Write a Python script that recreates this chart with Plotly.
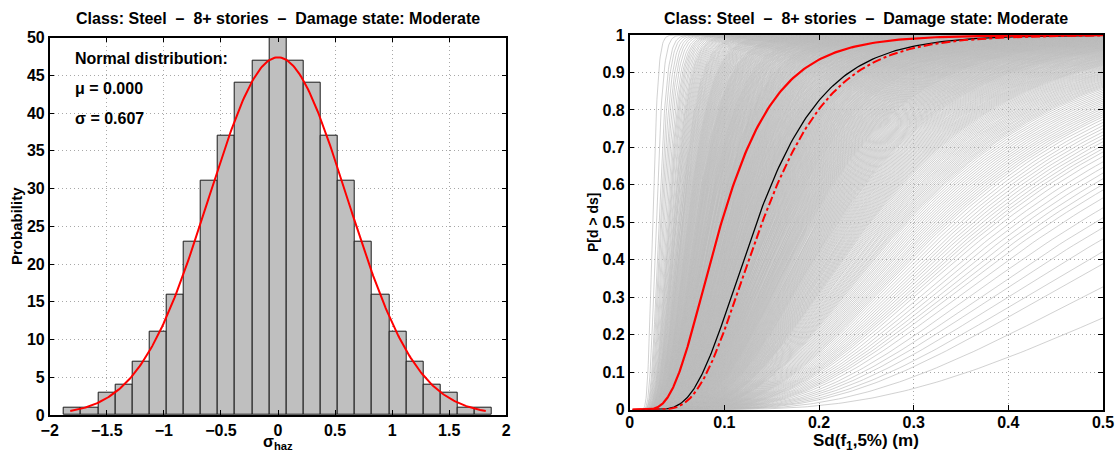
import math
import numpy as np
import plotly.graph_objects as go

# ---------------- data ----------------
# Left: histogram of sigma_haz (bin centres, counts)
bin_centers = [-1.8, -1.65, -1.5, -1.35, -1.2, -1.05, -0.9, -0.75, -0.6, -0.45, -0.3, -0.15,
               0.0, 0.15, 0.3, 0.45, 0.6, 0.75, 0.9, 1.05, 1.2, 1.35, 1.5, 1.65, 1.8]
bin_counts = [1, 1, 3, 4, 7, 11, 16, 23, 31, 37, 44, 47,
              50, 47, 44, 37, 31, 23, 16, 11, 7, 4, 3, 1, 1]
bin_width = 0.15
fit_mu = 0.000
fit_sigma = 0.607
fit_peak = 47.4          # peak height of fitted curve (counts)
fit_range = [-1.82, 1.82]

# Right: fragility curves (lognormal: median Sd [m], beta)
black_median, black_beta = 0.134, 0.428
red_median, red_beta = 0.097, 0.48
reddash_median, reddash_beta = 0.140, 0.42
# gray ensemble: medians = black_median*exp(k*eps), beta varies with eps
gray_eps_scale = 0.95
beta_anchor_eps = [-1.72, 0.0, 1.66]
beta_anchor_val = [0.18, 0.43, 0.57]

title_text = "Class: Steel\u00a0\u00a0–\u00a0\u00a08+ stories\u00a0\u00a0–\u00a0\u00a0Damage state: Moderate"

# ---------------- helpers ----------------
erf = np.vectorize(math.erf)


def norm_cdf(z):
    return 0.5 * (1.0 + erf(z / math.sqrt(2.0)))


def lognorm_cdf(x, m, b):
    return norm_cdf(np.log(x / m) / b)


FONT = "Liberation Sans, Arial, Helvetica, sans-serif"
fig = go.Figure()

# ---------------- left panel ----------------
fig.add_trace(go.Bar(
    x=bin_centers, y=bin_counts, width=bin_width,
    marker=dict(color="#bfbfbf", line=dict(color="#1a1a1a", width=1)),
    xaxis="x", yaxis="y", showlegend=False, hoverinfo="skip"))

xf = np.linspace(fit_range[0], fit_range[1], 300)
yf = fit_peak * np.exp(-0.5 * ((xf - fit_mu) / fit_sigma) ** 2)
fig.add_trace(go.Scatter(x=xf, y=yf, mode="lines", line=dict(color="#ff0000", width=2),
                         xaxis="x", yaxis="y", showlegend=False, hoverinfo="skip"))

# ---------------- right panel ----------------
xs = np.geomspace(0.003, 0.5, 320)
gx, gy = [], []
for c, n in zip(bin_centers, bin_counts):
    for j in range(n):
        eps = (c + ((j + 0.5) / n - 0.5) * bin_width) * gray_eps_scale
        m = black_median * math.exp(eps)
        b = float(np.interp(eps, beta_anchor_eps, beta_anchor_val))
        yv = lognorm_cdf(xs, m, b)
        keep = (yv > 1e-5)
        gx.extend(xs[keep].tolist()); gx.append(None)
        gy.extend(yv[keep].tolist()); gy.append(None)
fig.add_trace(go.Scatter(x=gx, y=gy, mode="lines", line=dict(color="#bdbdbd", width=0.7),
                         xaxis="x2", yaxis="y2", showlegend=False, hoverinfo="skip"))

xc = np.geomspace(0.003, 0.5, 400)
fig.add_trace(go.Scatter(x=xc, y=lognorm_cdf(xc, black_median, black_beta), mode="lines",
                         line=dict(color="black", width=1.3),
                         xaxis="x2", yaxis="y2", showlegend=False, hoverinfo="skip"))
fig.add_trace(go.Scatter(x=xc, y=lognorm_cdf(xc, reddash_median, reddash_beta), mode="lines",
                         line=dict(color="#ff0000", width=2, dash="dashdot"),
                         xaxis="x2", yaxis="y2", showlegend=False, hoverinfo="skip"))
fig.add_trace(go.Scatter(x=xc, y=lognorm_cdf(xc, red_median, red_beta), mode="lines",
                         line=dict(color="#ff0000", width=2.2),
                         xaxis="x2", yaxis="y2", showlegend=False, hoverinfo="skip"))

# ---------------- axes ----------------
W, H = 1116, 453
tickfont = dict(family=FONT, size=16, color="black", weight="bold")
common = dict(showline=True, linecolor="black", linewidth=1.5, mirror="ticks",
              ticks="inside", ticklen=5, tickcolor="black", tickwidth=1,
              showgrid=True, gridcolor="#a8a8a8", griddash="1px,3px", gridwidth=1,
              zeroline=False, tickfont=tickfont, automargin=False)

fig.update_layout(
    width=W, height=H, margin=dict(l=0, r=0, t=0, b=0),
    plot_bgcolor="white", paper_bgcolor="white", bargap=0,
    xaxis=dict(domain=[49.7 / W, 506.3 / W], range=[-2, 2], tickvals=[-2, -1.5, -1, -0.5, 0, 0.5, 1, 1.5, 2],
               ticktext=["\u22122", "\u22121.5", "\u22121", "\u22120.5", "0", "0.5", "1", "1.5", "2"],
               anchor="y", **common),
    yaxis=dict(domain=[1 - 415 / H, 1 - 37.7 / H], range=[0, 50], tickvals=list(range(0, 51, 5)),
               anchor="x", **common),
    xaxis2=dict(domain=[629.7 / W, 1103 / W], range=[0, 0.5], tickvals=[0, 0.1, 0.2, 0.3, 0.4, 0.5],
                ticktext=["0", "0.1", "0.2", "0.3", "0.4", "0.5"], anchor="y2",
                ticklabelstandoff=-3, **common),
    yaxis2=dict(domain=[1 - 409.7 / H, 1 - 35 / H], range=[0, 1],
                tickvals=[i / 10 for i in range(11)],
                ticktext=["0", "0.1", "0.2", "0.3", "0.4", "0.5", "0.6", "0.7", "0.8", "0.9", "1"],
                anchor="x2", **common),
)

bold = dict(family=FONT, color="black", weight="bold")
ann = [
    dict(text=title_text, x=278 / W, y=1 - 19 / H, font=dict(size=16, **bold)),
    dict(text=title_text, x=866 / W, y=1 - 19 / H, font=dict(size=16, **bold)),
    dict(text="Normal distribution:", x=73 / W, y=1 - 58.5 / H, xanchor="left", font=dict(size=16, **bold)),
    dict(text="\u03bc = %.3f" % fit_mu, x=73 / W, y=1 - 88.5 / H, xanchor="left", font=dict(size=16, **bold)),
    dict(text="\u03c3 = %.3f" % fit_sigma, x=73 / W, y=1 - 118.5 / H, xanchor="left", font=dict(size=16, **bold)),
    dict(text="\u03c3<sub>haz</sub>", x=278 / W, y=1 - 442 / H, font=dict(size=16, **bold)),
    dict(text="Probability", x=16 / W, y=1 - 226 / H, textangle=-90, font=dict(size=15, **bold)),
    dict(text="Sd(f<sub>1</sub>,5%) (m)", x=866 / W, y=1 - 442 / H, font=dict(size=17, **bold)),
    dict(text="P[d > ds]", x=593 / W, y=1 - 222 / H, textangle=-90, font=dict(size=14, **bold)),
]
for a in ann:
    a.setdefault("xanchor", "center")
    a.update(xref="paper", yref="paper", yanchor="middle", showarrow=False)
fig.update_layout(annotations=ann)

fig.write_html("out.html", config={"displayModeBar": False},
               post_script="document.body.style.margin='0';document.body.style.overflow='hidden';")
